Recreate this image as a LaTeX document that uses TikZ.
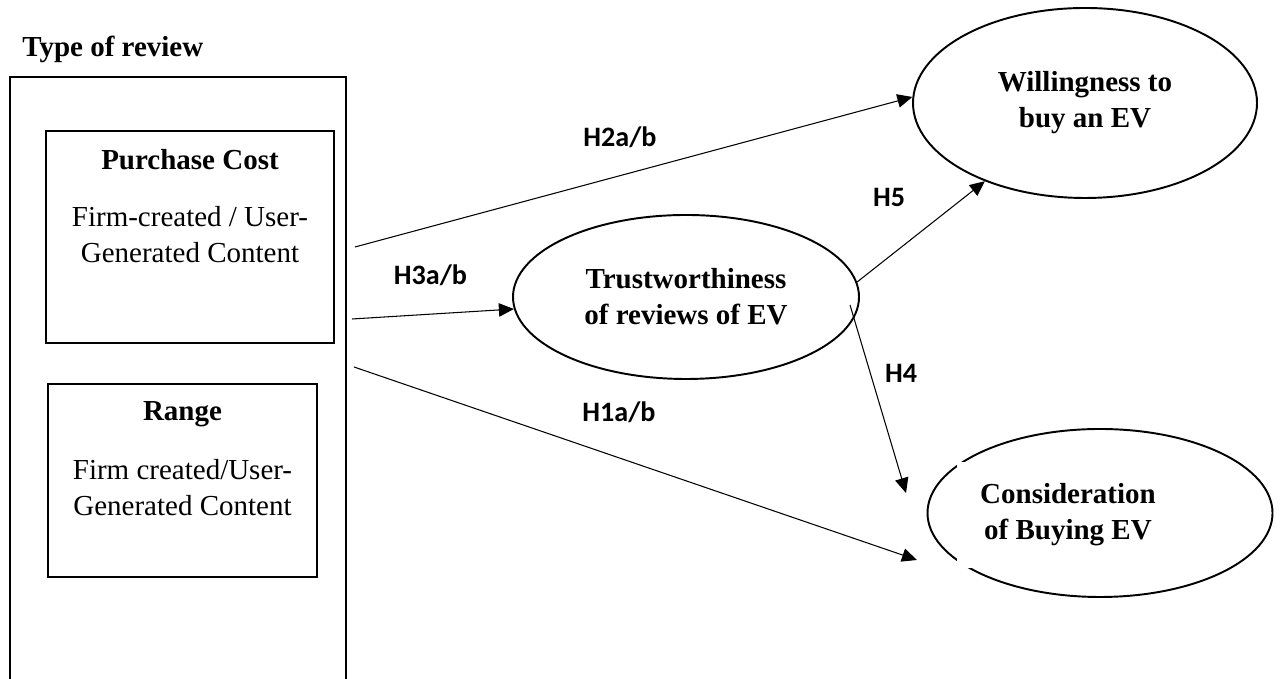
\documentclass[tikz,border=0pt]{standalone}
\usepackage{fontspec}
\setmainfont{Liberation Serif}
\newfontfamily\hypfont{Carlito}
\usetikzlibrary{positioning, arrows.meta, shapes.geometric}

\begin{document}
\begin{tikzpicture}[
		>={Triangle[length=0.3cm, width=0.27cm]},
		every node/.style={font=\fontsize{16.5}{20.5}\selectfont},
		frame/.style={draw, line width=1.3pt, minimum width=6.72cm, minimum height=13.04cm, inner sep=0pt},
		factor/.style={draw, line width=0.75pt, inner sep=0pt},
		factortext/.style={align=center, inner sep=0pt},
		construct/.style={draw, ellipse, line width=1.1pt, inner sep=0pt, align=center, font=\fontsize{16.5}{20.5}\selectfont\bfseries},
		hyp/.style={font=\fontsize{16}{19}\selectfont\hypfont\bfseries, inner sep=0pt, anchor=base},
		path_line/.style={->, line width=0.6pt}
		]
		
		\useasboundingbox (0,0) rectangle (25.64,13.58);
		\clip (0,0) rectangle (25.64,13.58);
		
		% --- TYPE OF REVIEW ---
		\node[frame] (review) at (3.56, 5.52) {};
		\node[anchor=base west, inner sep=0pt, font=\fontsize{16.5}{20.5}\selectfont\bfseries] (reviewtitle) at (0.44, 12.44) {Type of review};
		
		% Purchase cost box
		\node[factor, minimum width=5.76cm, minimum height=4.24cm] (cost) at (3.80, 8.84) {};
		\node[factortext, below=0.37cm of cost.north] (costtext) {\textbf{Purchase Cost}\\[0.42cm] Firm-created / User-\\ Generated Content};
		
		% Range box
		\node[factor, minimum width=5.38cm, minimum height=3.86cm] (range) at (3.65, 3.97) {};
		\node[factortext, below=0.36cm of range.north] (rangetext) {\textbf{Range}\\[0.46cm] Firm created/User-\\ Generated Content};
		
		% --- OUTCOMES ---
		\node[construct, minimum width=6.92cm, minimum height=3.28cm] (trust) at (13.72, 7.64) {Trustworthiness\\of reviews of EV};
		\node[construct, minimum width=6.88cm, minimum height=3.80cm] (will) at (21.70, 11.52) {Willingness to\\buy an EV};
		\node[construct, minimum width=6.90cm, minimum height=3.36cm] (cons) at (22.00, 3.32) {};
		\node[fill=white, inner sep=0pt, minimum width=4.44cm, minimum height=2.12cm, align=center, font=\fontsize{16.5}{20.5}\selectfont\bfseries] (constext) at (21.36, 3.28) {Consideration\\of Buying EV};
		
		% --- HYPOTHESIS PATHS ---
		\coordinate (h2start) at (7.10, 8.64);
		\coordinate (h3start) at (7.04, 7.20);
		\coordinate (h1start) at (7.08, 6.24);
		\coordinate (h4start) at (17.00, 7.48);
		\coordinate (h4end) at (18.12, 3.72);
		\coordinate (h1end) at (18.34, 2.38);
		
		\draw[path_line] (h2start) -- (will.178);
		\draw[path_line] (h3start) -- (trust.184);
		\draw[path_line] (h1start) -- (h1end);
		\draw[path_line] (trust.5) -- (will.218);
		\draw[path_line] (h4start) -- (h4end);
		
		% Path labels
		\node[hyp] (h2lbl) at (12.40, 10.64) {H2a/b};
		\node[hyp] (h3lbl) at (8.61, 7.88) {H3a/b};
		\node[hyp] (h1lbl) at (12.38, 5.14) {H1a/b};
		\node[hyp] (h5lbl) at (17.78, 9.44) {H5};
		\node[hyp] (h4lbl) at (18.02, 5.92) {H4};
		
	\end{tikzpicture}
\end{document}
